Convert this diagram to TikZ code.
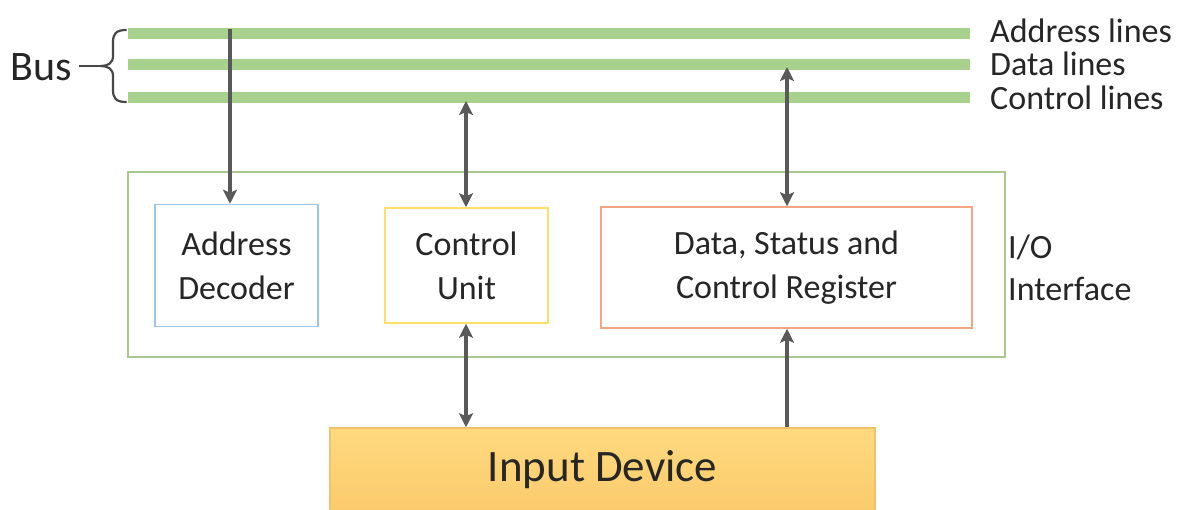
\documentclass[tikz,border=0pt]{standalone}
\usepackage{fontspec}
\setmainfont{Carlito}
\usetikzlibrary{arrows.meta}
\definecolor{busgreen}{HTML}{A9D18E}
\definecolor{framegreen}{HTML}{A8C890}
\definecolor{boxblue}{HTML}{9DC3E6}
\definecolor{boxyellow}{HTML}{FFE066}
\definecolor{boxorange}{HTML}{F4A582}
\definecolor{devtop}{HTML}{FFD97E}
\definecolor{devbot}{HTML}{FACB6C}
\definecolor{devedge}{HTML}{F2C26A}
\definecolor{arrowgray}{HTML}{595959}
\definecolor{txt}{HTML}{262626}
\tikzset{
  busline/.style={line width=11pt, busgreen},
  unitbox/.style={draw, line width=1.5pt, fill=white, align=center, inner sep=0pt,
    font=\fontsize{34}{44}\selectfont, text=txt},
  lbl/.style={font=\fontsize{34}{34}\selectfont, text=txt, inner sep=0pt},
  arr/.style={line width=3.5pt, arrowgray, -{Stealth[length=14pt,width=14pt,inset=3pt]}},
  darr/.style={line width=3.5pt, arrowgray, {Stealth[length=14pt,width=14pt,inset=3pt]}-{Stealth[length=14pt,width=14pt,inset=3pt]}}
}
\begin{document}
\begin{tikzpicture}[x=1pt,y=-1pt]
\useasboundingbox (0,0) rectangle (1186,509);
\fill[white] (0,0) rectangle (1186,509);

% bus lines
\coordinate (a0) at (128,33); \coordinate (a1) at (970,33);
\coordinate (d0) at (128,64); \coordinate (d1) at (970,64);
\coordinate (c0) at (128,97); \coordinate (c1) at (970,97);
\draw[busline] (a0) -- (a1);
\draw[busline] (d0) -- (d1);
\draw[busline] (c0) -- (c1);

\node[lbl, anchor=base west] (la) at (990,42) {Address lines};
\node[lbl, anchor=base west] (ld) at (990,75) {Data lines};
\node[lbl, anchor=base west] (lc) at (990,109) {Control lines};

% brace and Bus label
\draw[txt!85, line width=2.2pt, line cap=round]
  (126,30) .. controls (116,30) and (113,34) .. (113,42) -- (113,56)
  .. controls (113,63) and (108,66) .. (101,66)
  .. controls (108,66) and (113,69) .. (113,76) -- (113,90)
  .. controls (113,98) and (116,102) .. (126,102);
\node[font=\fontsize{42}{42}\selectfont, text=txt, inner sep=0pt, anchor=base east] (bus) at (72,80) {Bus};
\coordinate (tip) at (101,66);
\draw[txt!85, line width=2.2pt] (tip) -- (79,66);

% I/O interface frame
\node[draw=framegreen, line width=1.5pt, minimum width=877pt, minimum height=185pt, inner sep=0pt] (io) at (566.5,264.5) {};
\node[lbl, anchor=base west] (io1) at (1008,258) {I/O};
\node[lbl, anchor=base west] (io2) at (1008,300) {Interface};

% units
\node[unitbox, draw=boxblue, minimum width=163pt, minimum height=122pt] (ad) at (236.5,265.5) {Address\\Decoder};
\node[unitbox, draw=boxyellow, minimum width=163pt, minimum height=115pt] (cu) at (466.5,265.5) {Control\\Unit};
\node[unitbox, draw=boxorange, minimum width=371pt, minimum height=121pt] (dr) at (786.5,267.5) {Data, Status and\\Control Register};

% input device
\node[draw=devedge, line width=1.5pt, top color=devtop, bottom color=devbot, minimum width=545pt, minimum height=84pt, inner sep=0pt,
  font=\fontsize{45}{45}\selectfont, text=txt] (in) at (602.5,470) {Input Device};

% connectors
\coordinate (atap) at (230,29);
\coordinate (ctap) at (466,101);
\coordinate (dtap) at (787,67);
\draw[arr] (atap) -- (atap |- ad.north);
\draw[darr] (ctap) -- (ctap |- cu.north);
\draw[darr] (dtap) -- (dtap |- dr.north);
\draw[darr] (ctap |- cu.south) -- (ctap |- in.north);
\draw[arr] (dtap |- in.north) -- (dtap |- dr.south);
\end{tikzpicture}
\end{document}
